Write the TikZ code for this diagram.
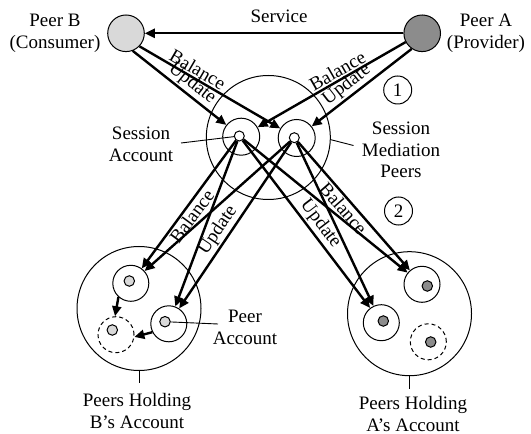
\documentclass[tikz,border=0pt]{standalone}
\usepackage{fontspec}
\setmainfont{Liberation Serif}
\usetikzlibrary{arrows.meta}
\definecolor{lgray}{HTML}{D9D9D9}
\definecolor{dgray}{HTML}{8C8C8C}
\begin{document}
\begin{tikzpicture}[x=1bp,y=-1bp,
  every node/.style={font=\fontsize{19bp}{21.5bp}\selectfont},
  big/.style={circle,draw,line width=1bp,inner sep=0,minimum size=124bp},
  acct/.style={circle,draw,fill=white,line width=1bp,inner sep=0,minimum size=36bp},
  dacct/.style={circle,draw,fill=white,line width=1bp,inner sep=0,minimum size=36bp,dash pattern=on 4bp off 3bp},
  sacct/.style={circle,draw,line width=1bp,inner sep=0,minimum size=37bp},
  dotB/.style={circle,draw,fill=lgray,line width=1bp,inner sep=0,minimum size=10.5bp},
  dotA/.style={circle,draw,fill=dgray,line width=1bp,inner sep=0,minimum size=10.5bp},
  sdot/.style={circle,draw,fill=white,line width=1bp,inner sep=0,minimum size=10bp},
  peer/.style={circle,draw,line width=1bp,inner sep=0,minimum size=36.6bp},
  numc/.style={circle,draw,line width=1bp,inner sep=0,minimum size=28bp},
  flow/.style={line width=2.4bp,-{Triangle[length=10bp,width=9bp]}},
  lead/.style={line width=0.9bp},
  lbl/.style={align=center,inner sep=0},
  onl/.style={sloped,inner sep=1.5bp}
]
\useasboundingbox (0,0) rectangle (531,434);

% peers
\node[peer,fill=lgray] (pB) at (126,33.3) {};
\node[peer,fill=dgray] (pA) at (422.2,33.3) {};
\node[lbl] (pBl) at (55,33.3) {Peer B\\(Consumer)};
\node[lbl] (pAl) at (486,33.3) {Peer A\\(Provider)};
\node[lbl] (svc) at (279,16.5) {Service};

% session mediation
\node[big] (smp) at (268.3,137.5) {};
\node[sacct] (saLo) at (241.2,136.7) {};
\node[sacct] (saRo) at (296.7,138) {};
\node[sdot] (saLi) at (239.3,136) {};
\node[sdot] (saRi) at (294.3,137.7) {};
\node[lbl] (saLab) at (141,144.3) {Session\\Account};
\node[lbl] (smpLab) at (401,150) {Session\\Mediation\\Peers};
\node[numc] (n1) at (397.7,90) {1};
\node[numc] (n2) at (398.5,211) {2};

% B group
\node[big] (bBig) at (139,308.5) {};
\node[acct] (bT) at (130.8,283.3) {};
\node[acct] (bR) at (168.8,323.8) {};
\node[dacct] (bD) at (116,334.7) {};
\node[dotB] (bTi) at (129.3,281) {};
\node[dotB] (bRi) at (165,321.7) {};
\node[dotB] (bDi) at (112.3,330) {};
\node[lbl] (paLab) at (245,327.3) {Peer\\Account};
\node[lbl] (bLab) at (137,411) {Peers Holding\\B’s Account};

% A group
\node[big] (aBig) at (409.5,313.7) {};
\node[acct] (aT) at (422,284.3) {};
\node[acct] (aL) at (381.3,322.7) {};
\node[dacct] (aD) at (428.3,341.8) {};
\node[dotA] (aTi) at (427.3,286) {};
\node[dotA] (aLi) at (383.3,321) {};
\node[dotA] (aDi) at (430.7,342) {};
\node[lbl] (aLab) at (413,413.8) {Peers Holding\\A’s Account};

% service
\draw[flow] (pA.west) -- (pB.east);

% to session accounts
\draw[flow] (pB.-69) -- node[onl,above,pos=0.56] {Update} (saLo);
\draw[flow] (pB.-44) -- node[onl,above,pos=0.38] {Balance} (saRo);
\draw[flow] (pA.208) -- node[onl,above,pos=0.43] {Balance} (saLo);
\draw[flow] (pA.236) -- node[onl,above,pos=0.58] {Update} (saRo);

% to account holders
\draw[flow] (saLi) -- node[onl,below,pos=0.55] {Balance} (bT);
\draw[flow] (saLi) -- (bR);
\draw[flow] (saRi) -- (bT);
\draw[flow] (saRi) -- node[onl,above,pos=0.57] {Update} (bR);
\draw[flow] (saLi) -- node[onl,above,pos=0.54] {Update} (aL);
\draw[flow] (saLi) -- (aT);
\draw[flow] (saRi) -- node[onl,below,pos=0.47] {Balance} (aT);
\draw[flow] (saRi) -- (aL);

% inside B group
\draw[flow] (bT.228) -- (bD.93);
\draw[flow] (bR.207) -- (bD.-7);

% leaders
\coordinate (saLead) at (181,143);
\draw[lead] (saLead) -- (saLi);
\coordinate (smpLead) at (353.5,145.5);
\draw[lead] (smp.-2) -- (smpLead);
\coordinate (paLead) at (218,324);
\draw[lead] (bRi) -- (paLead);
\coordinate (bTick) at (139,383.3);
\draw[lead] (bBig.south) -- (bTick);
\coordinate (aTick) at (409.5,388.5);
\draw[lead] (aBig.south) -- (aTick);
\end{tikzpicture}
\end{document}
